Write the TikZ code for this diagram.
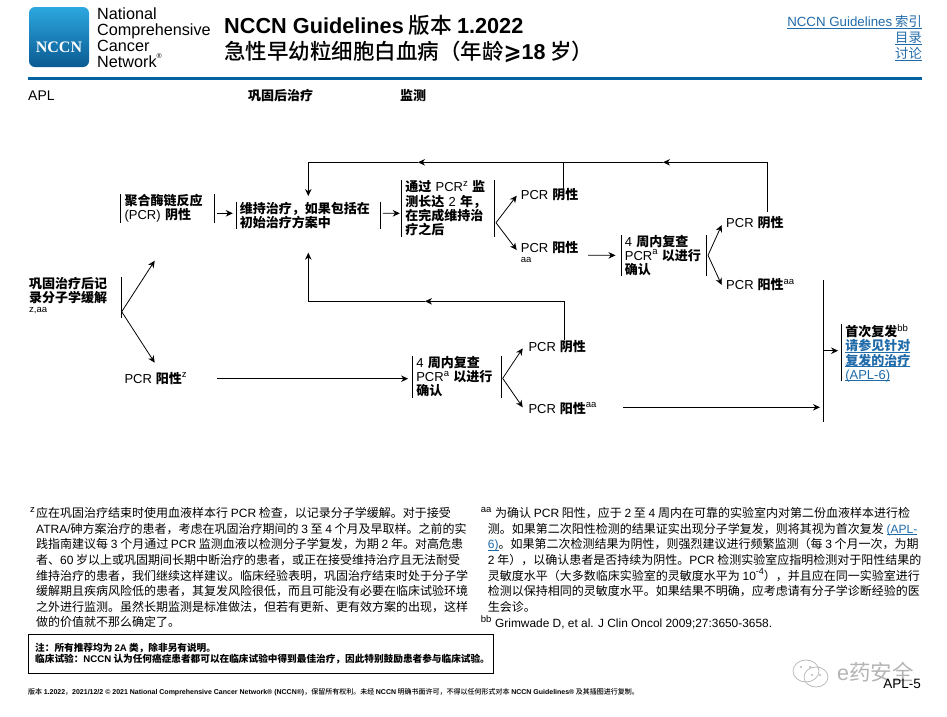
\documentclass[tikz,border=0pt]{standalone}
\usepackage{fontspec}
\setmainfont{Noto Sans CJK SC}
\newfontfamily\medf{Noto Sans CJK SC Medium}
\newfontfamily\latf{Liberation Sans}
\newfontfamily\serf{Liberation Serif}
\newfontfamily\djv{DejaVu Sans}
\usetikzlibrary{arrows.meta}
\newcommand\lat[1]{{\latf\mdseries #1}}
\newcommand\latb[1]{{\latf\bfseries #1}}
\newcommand\fs[2]{\fontsize{#1}{#2}\selectfont}
\newcommand\sups[1]{\raisebox{.42em}{\fs{9.5}{9.5}\lat{#1}}}
\newcommand\PC{\lat{PCR}\hspace{.3em}}
\newcommand\ul[1]{\underline{\smash{#1}}}
\definecolor{rulec}{HTML}{0062A0}
\definecolor{linkc}{HTML}{1F6AA8}
\definecolor{logot}{HTML}{2DA8E0}
\definecolor{logob}{HTML}{0A5A92}
\definecolor{wm}{HTML}{B4B4B4}
\tikzset{
  lbl/.style={inner sep=0pt,anchor=base west,font=\fs{13}{14.2}\bfseries,align=left},
  txt/.style={inner sep=0pt,anchor=north west,font=\fs{12}{15.65},align=left},
  mk/.style={inner sep=0pt,anchor=base west,font=\fs{9.5}{9.5}},
  barbox/.style={inner sep=0pt,inner xsep=3.6pt,align=left,font=\fs{13}{14.2}\bfseries},
  bar/.style={line width=.9pt},
  conn/.style={line width=.8pt},
  arr/.style={line width=.8pt,-{Stealth[length=7pt,width=6.5pt]}},
}
% name, x1, y1, x2, y2, text
\newcommand\barnode[6]{%
  \pgfmathsetmacro\bw{#4-#2}\pgfmathsetmacro\bh{#5-#3}%
  \pgfmathsetmacro\tw{#4-#2-7.2}\pgfmathsetmacro\cx{(#2+#4)/2}\pgfmathsetmacro\cy{(#3+#5)/2}%
  \node[barbox,minimum width=\bw pt,minimum height=\bh pt,text width=\tw pt] (#1) at (\cx,\cy) {#6};
  \draw[bar] (#1.north west)--(#1.south west);
  \draw[bar] (#1.north east)--(#1.south east);
}
\begin{document}
\begin{tikzpicture}[x=1pt,y=-1pt]
\useasboundingbox (0,0) rectangle (947,716);
% header
\node[inner sep=0pt,minimum width=60pt,minimum height=60pt,rounded corners=6pt,top color=logot,bottom color=logob] (logo) at (59,37) {};
\node[inner sep=0pt,text=white,font=\fs{16}{16}\serf\bfseries] (logotxt) at (59,47) {NCCN};
\node[inner sep=0pt,anchor=north west,align=left,font=\fs{16.2}{15.7}\latf] (org) at (97,8) {National\\Comprehensive\\Cancer\\Network\raisebox{.5em}{\fs{7}{7}®}};
\node[inner sep=0pt,anchor=base west,font=\fs{21.7}{26}\medf] (t1) at (224,33) {\latb{NCCN Guidelines} 版本 \latb{1.2022}};
\node[inner sep=0pt,anchor=base west,font=\fs{21.5}{26}\medf] (t2) at (224,59) {急性早幼粒细胞白血病（年龄{\djv\bfseries ⩾}\latb{18} 岁）};
\node[inner sep=0pt,anchor=base east,text=linkc,font=\fs{13.3}{14}] (lk1) at (922,26.5) {\ul{\lat{NCCN Guidelines} 索引}};
\node[inner sep=0pt,anchor=base east,text=linkc,font=\fs{13.3}{14}] (lk2) at (922,42.5) {\ul{目录}};
\node[inner sep=0pt,anchor=base east,text=linkc,font=\fs{13.3}{14}] (lk3) at (922,58.5) {\ul{讨论}};
\fill[rulec] (28,76.7) rectangle (922,79.5);
\node[lbl,font=\fs{14}{14}] (h1) at (28,100.5) {\lat{APL}};
\node[lbl] (h2) at (248,100) {巩固后治疗};
\node[lbl] (h3) at (400,100) {监测};
% start node
\node[lbl] (start) at (29,302.2) {巩固治疗后记\\录分子学缓解};
\node[mk] (startm) at (29,312) {\lat{z,aa}};
\draw[bar] (121.7,277.3)--(121.7,317.7);
\coordinate (f0) at (121.7,311.7);
% boxes
\barnode{pcrn}{121}{195}{214.7}{222}{聚合酶链反应\\\lat{(PCR)} 阴性}
\barnode{maint}{236.3}{201.7}{380.7}{228.7}{维持治疗，如果包括在\\初始治疗方案中}
\barnode{mon}{401.7}{180}{494.7}{236.7}{通过 \PC\kern-.3em\sups{z} 监\\测长达 \lat{2} 年，\\在完成维持治\\疗之后}
\barnode{re1}{621.3}{235}{706.3}{275.7}{\lat{4} 周内复查\\\lat{PCR}\sups{a} 以进行\\确认}
\barnode{re2}{412.7}{356}{501.7}{397.7}{\lat{4} 周内复查\\\lat{PCR}\sups{a} 以进行\\确认}
% relapse box
\node[barbox,minimum width=70pt,minimum height=55.7pt,text width=62.8pt] (rel) at (876.7,352.8) {首次复发\sups{bb}\\\textcolor{linkc}{\ul{请参见针对}}\\\textcolor{linkc}{\ul{复发的治疗}}\\\textcolor{linkc}{\ul{\lat{(APL-6)}}}};
\draw[bar] (rel.north west)--(rel.south west);
\draw[bar] (823.3,280)--(823.3,421.7);
% labels
\node[lbl] (n1) at (520.7,199.7) {\PC 阴性};
\node[lbl] (p1) at (520.7,252) {\PC 阳性};
\node[mk] (p1m) at (520.7,262) {\lat{aa}};
\node[lbl] (n2) at (726,227) {\PC 阴性};
\node[lbl] (p2) at (726,289.7) {\PC 阳性\sups{aa}};
\node[lbl] (p0) at (124.3,383) {\PC 阳性\sups{z}};
\node[lbl] (n3) at (528.3,351.4) {\PC 阴性};
\node[lbl] (p3) at (528.3,413) {\PC 阳性\sups{aa}};
% connectors
\draw[arr] (f0)--([xshift=33pt,yshift=51pt]f0);
\draw[arr] (f0)--([xshift=33pt,yshift=-51pt]f0);
\draw[arr] ([xshift=2.3pt,yshift=-4.8pt]pcrn.east)--([xshift=-3.3pt,yshift=1.9pt]maint.west);
\draw[arr] ([xshift=2pt,yshift=1.9pt]maint.east)--([xshift=-1.7pt,yshift=-4.95pt]mon.west);
\coordinate (f1) at (496,222.7);
\coordinate (f1a) at (516.7,195.7);
\coordinate (f1b) at (516.7,250);
\draw[arr] (f1)--(f1a);
\draw[arr] (f1)--(f1b);
\coordinate (s1) at (588,255.3);
\draw[arr] (s1)--([xshift=-5.6pt]re1.west);
\coordinate (f2) at (708,255.3);
\coordinate (f2a) at (721.7,225);
\coordinate (f2b) at (721.7,285);
\draw[arr] (f2)--(f2a);
\draw[arr] (f2)--(f2b);
\coordinate (f3) at (502.7,378.3);
\coordinate (f3a) at (522.7,348.3);
\coordinate (f3b) at (522.7,407.3);
\draw[arr] (f3)--(f3a);
\draw[arr] (f3)--(f3b);
\coordinate (s0) at (217,378.7);
\draw[arr] (s0)--([xshift=-4.4pt,yshift=-1.85pt]re2.west);
\coordinate (s3) at (623.3,407.3);
\coordinate (e3) at (820,407.3);
\draw[arr] (s3)--(e3);
\coordinate (relj) at (823.3,350.7);
\draw[arr] (relj)--([xshift=-3.4pt,yshift=2.1pt]rel.west);
% top loop
\coordinate (tr) at (767.5,162.3);
\coordinate (tm1) at (663,162.3);
\coordinate (tj) at (563.5,162.3);
\coordinate (tm2) at (418,162.3);
\coordinate (tl) at (308.3,162.3);
\coordinate (tn2) at (767.5,211.7);
\coordinate (tn1) at (563.5,189);
\coordinate (te) at (308.3,196);
\draw[conn] (tn2)--(tr);
\draw[arr] (tr)--(tm1);
\draw[conn] (tm1)--(tj);
\draw[conn] (tn1)--(tj);
\draw[arr] (tj)--(tm2);
\draw[conn] (tm2)--(tl);
\draw[arr] (tl)--(te);
% mid loop
\coordinate (mr) at (564,301.3);
\coordinate (mm) at (425,301.3);
\coordinate (ml) at (308.3,301.3);
\coordinate (mn) at (564,340);
\coordinate (me) at (308.3,252.7);
\draw[conn] (mn)--(mr);
\draw[arr] (mr)--(mm);
\draw[conn] (mm)--(ml);
\draw[arr] (ml)--(me);
% footnotes
\node[mk] (mz) at (30,512) {\lat{z}};
\node[txt] (fn1) at (36,507) {应在巩固治疗结束时使用血液样本行 \lat{PCR} 检查，以记录分子学缓解。对于接受\\
\lat{ATRA/}砷方案治疗的患者，考虑在巩固治疗期间的 \lat{3} 至 \lat{4} 个月及早取样。之前的实\\
践指南建议每 \lat{3} 个月通过 \lat{PCR} 监测血液以检测分子学复发，为期 \lat{2} 年。对高危患\\
者、\lat{60} 岁以上或巩固期间长期中断治疗的患者，或正在接受维持治疗且无法耐受\\
维持治疗的患者，我们继续这样建议。临床经验表明，巩固治疗结束时处于分子学\\
缓解期且疾病风险低的患者，其复发风险很低，而且可能没有必要在临床试验环境\\
之外进行监测。虽然长期监测是标准做法，但若有更新、更有效方案的出现，这样\\
做的价值就不那么确定了。};
\node[mk] (maa) at (480.7,512) {\lat{aa}};
\node[txt] (fn2) at (487.7,507) {\hspace*{7.3pt}为确认 \lat{PCR} 阳性，应于 \lat{2} 至 \lat{4} 周内在可靠的实验室内对第二份血液样本进行检\\
测。如果第二次阳性检测的结果证实出现分子学复发，则将其视为首次复发 \textcolor{linkc}{\ul{\lat{(APL-}}}\\
\textcolor{linkc}{\ul{\lat{6)}}}。如果第二次检测结果为阴性，则强烈建议进行频繁监测（每 \lat{3} 个月一次，为期\\
\lat{2} 年），以确认患者是否持续为阴性。\lat{PCR} 检测实验室应指明检测对于阳性结果的\\
灵敏度水平（大多数临床实验室的灵敏度水平为 \lat{10\raisebox{.42em}{\fs{9}{9}-4}}），并且应在同一实验室进行\\
检测以保持相同的灵敏度水平。如果结果不明确，应考虑请有分子学诊断经验的医\\
生会诊。};
\node[mk] (mbb) at (480.7,622) {\lat{bb}};
\node[inner sep=0pt,anchor=base west,font=\fs{11.9}{14}\latf] (fn3) at (495,627) {Grimwade D, et al. J Clin Oncol 2009;27:3650-3658.};
% note box
\node[draw,line width=1pt,inner sep=0pt,minimum width=465pt,minimum height=39pt] (notebox) at (260.8,653.8) {};
\node[inner sep=0pt,anchor=north west,align=left,font=\fs{9.65}{11.7}\bfseries] (note) at (35,642.5) {注：所有推荐均为 \latb{2A} 类，除非另有说明。\\临床试验：\latb{NCCN} 认为任何癌症患者都可以在临床试验中得到最佳治疗，因此特别鼓励患者参与临床试验。};
% footer
\node[inner sep=0pt,anchor=base west,font=\fs{7}{8}\medf] (foot) at (28,694.5) {版本 \latb{1.2022}，\latb{2021/12/2 © 2021 National Comprehensive Cancer Network® (NCCN®)}，保留所有权利。未经 \latb{NCCN} 明确书面许可，不得以任何形式对本 \latb{NCCN Guidelines®} 及其插图进行复制。};
% watermark
\begin{scope}[wm,line width=.7pt]
\draw (806,671) ellipse (13pt and 11pt);
\draw (816,677) ellipse (12pt and 10pt);
\fill (801,667) circle (1.2pt) (810,667) circle (1.2pt) (812,675) circle (1.1pt) (820,675) circle (1.1pt);
\end{scope}
\node[inner sep=0pt,anchor=base west,text=wm,font=\fs{21.5}{22}] (wmt) at (837,680) {\lat{e}药安全};
\node[inner sep=0pt,anchor=base east,font=\fs{13.5}{14}\latf] (pg) at (921,688.5) {APL-5};
\end{tikzpicture}
\end{document}
